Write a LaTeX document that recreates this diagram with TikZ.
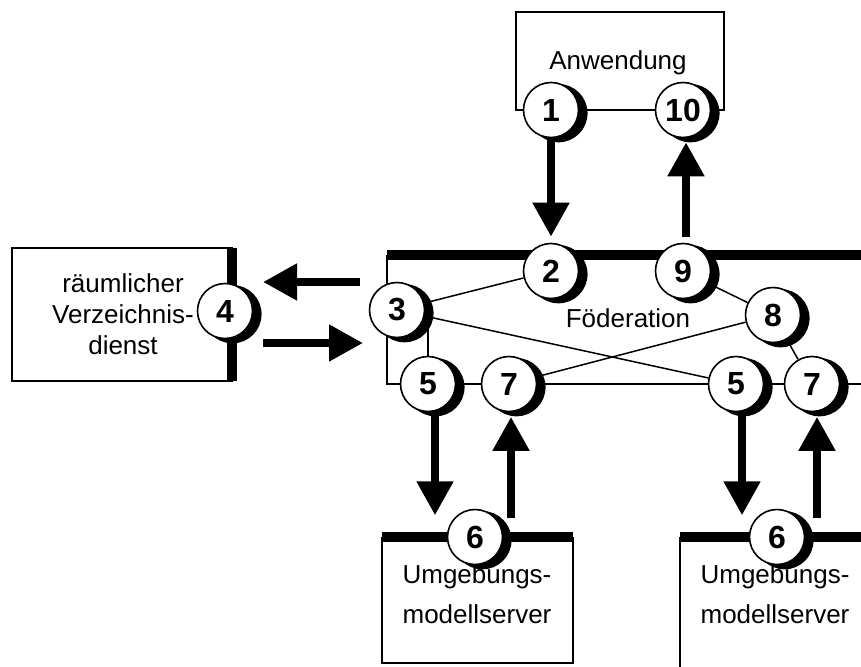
\documentclass[tikz,border=0pt]{standalone}
\usepackage{fontspec}
\setmainfont{Liberation Sans}
\usetikzlibrary{arrows.meta,shadows,backgrounds,calc}
\begin{document}
\begin{tikzpicture}[x=1pt,y=-1pt,
  num/.style={circle,draw,line width=1.6pt,fill=white,minimum size=55pt,inner sep=0pt,
    font=\fontsize{32}{32}\selectfont\bfseries,
    drop shadow={shadow xshift=7pt,shadow yshift=-3pt,shadow scale=1.06,opacity=1,fill=black}},
  txt/.style={font=\fontsize{26}{31}\selectfont,align=center,inner sep=0pt},
  srvtxt/.style={font=\fontsize{26}{40}\selectfont,align=center,inner sep=0pt},
  thinline/.style={line width=1.5pt},
  barline/.style={line width=10pt},
  bigarrow/.style={line width=8pt,-{Triangle[length=34pt,width=35pt]}},
]
\useasboundingbox (0,0) rectangle (861,666);

% interface circles
\node[num] (c1)  at (551,110) {1};
\node[num] (c10) at (683,110) {10};
\node[num] (c2)  at (551,271) {2};
\node[num] (c9)  at (683,271) {9};
\node[num] (c3)  at (397,310) {3};
\node[num] (c8)  at (773,315) {8};
\node[num] (c5a) at (428,384) {5};
\node[num] (c7a) at (509,384) {7};
\node[num] (c5b) at (736,384) {5};
\node[num] (c7b) at (812,384) {7};
\node[num] (c4)  at (225,311) {4};
\node[num] (c6a) at (475,537) {6};
\node[num] (c6b) at (777,537) {6};

% labels
\node[txt] (app) at (618,63) {Anwendung};
\node[txt] (fed) at (628,318) {Föderation};
\node[txt] (dir) at (123,314.5) {räumlicher\\Verzeichnis-\\dienst};
\node[srvtxt] (srvA) at (477,594) {Umgebungs-\\modellserver};
\node[srvtxt] (srvB) at (775,594) {Umgebungs-\\modellserver};

\begin{scope}[on background layer]
  % application
  \draw[thinline] (516,12) rectangle (724,110);
  % directory service
  \draw[thinline] (12,248) rectangle (232,381);
  \draw[barline] (232,248) -- (232,381);
  % federation
  \draw[thinline] (387,255) -- (387,384) -- (861,384);
  \draw[barline] (387,255) -- (861,255);
  % model servers
  \draw[thinline] (382,537) -- (382,663) -- (573,663) -- (573,537);
  \draw[barline] (382,537) -- (573,537);
  \draw[thinline] (680,537) -- (680,670);
  \draw[barline] (680,537) -- (866,537);
  % internal links of the federation
  \draw[thinline] (c3) -- (c2);
  \draw[thinline] (c3) -- (c5b);
  \draw[thinline] (c5a) -- (c5a |- c3);
  \draw[thinline] (c9) -- (c8);
  \draw[thinline] (c8) -- (c7a);
  \draw[thinline] (c8) -- (c7b);
\end{scope}

% message flow
\coordinate (fedW1) at (360,282);
\coordinate (dirE1) at (263,282);
\coordinate (dirE2) at (263,343);
\coordinate (fedW2) at (363,343);

\draw[bigarrow] (c1.south) -- ([yshift=6pt]c2.north);
\draw[bigarrow] ([xshift=3pt,yshift=6pt]c9.north) -- ([xshift=3pt,yshift=-4pt]c10.south);
\draw[bigarrow] (fedW1) -- (dirE1);
\draw[bigarrow] (dirE2) -- (fedW2);
\draw[bigarrow] ($(c5a.south)+(7,0)$) -- ($(c5a.south)+(7,103)$);
\draw[bigarrow] ($(c7a.south)+(2,106)$) -- ($(c7a.south)+(2,4.5)$);
\draw[bigarrow] ($(c5b.south)+(6,0)$) -- ($(c5b.south)+(6,103)$);
\draw[bigarrow] ($(c7b.south)+(5,106)$) -- ($(c7b.south)+(5,4.5)$);
\end{tikzpicture}
\end{document}
